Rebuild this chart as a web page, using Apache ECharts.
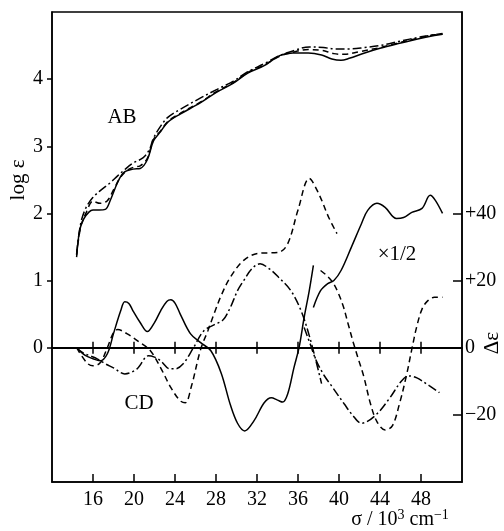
<!DOCTYPE html>
<html>
<head>
<meta charset="utf-8">
<script src="https://cdn.jsdelivr.net/npm/echarts@6/dist/echarts.min.js"></script>
<style>
html,body{margin:0;padding:0;background:#fff;}
#chart{width:504px;height:531px;}
</style>
</head>
<body>
<div id="chart"></div>
<script>
// ---- tick values ----
const xTicks = [16, 20, 24, 28, 32, 36, 40, 44, 48];
const logTicks = [0, 1, 2, 3, 4];
const deTicks = [-20, 0, 20, 40];

// ---- AB (log ε, left axis) ----
const abSolid = [[14.4,1.35],[14.7,1.75],[15.1,1.92],[15.6,2.02],[16.0,2.05],[16.6,2.05],[17.2,2.06],[17.7,2.2],[18.4,2.46],[19.0,2.61],[19.9,2.66],[20.6,2.67],[21.3,2.8],[21.9,3.08],[22.6,3.22],[23.3,3.36],[24.5,3.48],[26.5,3.65],[28,3.8],[29.7,3.94],[31.1,4.09],[32.7,4.2],[34.2,4.35],[35.5,4.39],[37,4.39],[38.3,4.36],[39.3,4.3],[40.2,4.28],[41,4.31],[42.5,4.39],[44,4.46],[45.8,4.53],[48,4.61],[49.3,4.65],[50.1,4.67]];
const abDashed = [[14.4,1.38],[14.8,1.8],[15.3,2.0],[16.0,2.18],[16.7,2.15],[17.4,2.19],[18.0,2.35],[18.6,2.52],[19.3,2.64],[20.0,2.69],[20.6,2.71],[21.3,2.82],[21.9,3.1],[22.6,3.23],[23.3,3.37],[24.5,3.49],[26.5,3.66],[28,3.81],[29.7,3.95],[31.1,4.1],[32.7,4.21],[34.2,4.34],[35.5,4.4],[37,4.44],[38.3,4.43],[39.5,4.38],[40.5,4.37],[42,4.41],[44,4.47],[45.8,4.54],[48,4.62],[49.3,4.66],[50.1,4.67]];
const abDashDot = [[14.4,1.4],[14.8,1.85],[15.3,2.08],[16.0,2.24],[16.8,2.35],[17.7,2.46],[18.4,2.56],[19.0,2.64],[19.9,2.75],[20.9,2.83],[21.5,2.95],[21.9,3.12],[22.6,3.3],[23.3,3.43],[24.5,3.55],[26.5,3.72],[28,3.84],[29.7,3.97],[31.1,4.11],[32.7,4.23],[34.2,4.35],[35.5,4.42],[37.1,4.48],[38.5,4.47],[39.6,4.45],[41,4.45],[42.5,4.47],[44,4.5],[45.8,4.56],[48,4.63],[49.3,4.66],[50.1,4.68]];

// ---- CD (Δε, right axis) ----
const cdSolid = [[14.4,0],[15.2,-2.2],[16.0,-3.3],[16.7,-3.9],[17.4,-1.8],[18.0,4.2],[18.7,11],[19.1,13.7],[19.5,13.2],[19.9,11],[20.6,7.5],[21.3,4.8],[22.0,7.5],[22.6,11],[23.2,13.8],[23.6,14.3],[24.0,13.3],[24.5,10.1],[25.5,4.2],[26.5,1.5],[27.5,-0.9],[28.5,-7.5],[29.4,-17],[30.1,-22.5],[30.8,-24.8],[31.7,-21.8],[32.7,-16.4],[33.4,-14.9],[34.0,-15.6],[34.5,-16.2],[35.0,-13.7],[35.6,-6],[36.1,0],[36.6,9],[37.1,17],[37.5,24.5]];
const cdSolidHalf = [[37.5,12],[38.2,17],[38.9,19.1],[39.5,20],[40.2,23],[41.2,29.9],[42.2,37],[42.8,40.9],[43.7,43],[44.5,41.8],[45.6,38.5],[46.3,38.8],[47.1,40.3],[48.1,41.5],[48.9,45.4],[49.4,43.9],[50.1,40]];
const cdDashed = [[14.4,0],[15.4,-4.5],[16.0,-5.4],[16.7,-4.5],[17.4,0],[18.0,4.5],[18.4,5.4],[19.3,4.2],[20.6,1.5],[21.6,-0.9],[22.6,-6],[23.6,-11.9],[24.5,-15.8],[25.0,-16.4],[25.6,-11.5],[26.5,-0.5],[27.2,5],[27.8,10],[28.5,15.5],[29.4,21],[30.7,26],[32.1,28.1],[34.1,28.4],[35.0,31],[36.0,41],[37.1,50.4],[38.0,46],[39.0,38.8],[39.8,34]];
const cdDashedHalf = [[38.2,23],[38.8,21.5],[39.4,19.4],[39.9,16.5],[40.4,12.5],[40.9,7],[41.4,1.5],[41.9,-3.5],[42.4,-8.4],[43.1,-17],[43.7,-22],[44.5,-24.5],[45.2,-23.3],[45.9,-16.7],[46.6,-8],[47.1,-0.5],[47.6,6.5],[48.1,11.5],[48.6,13.8],[49.3,15],[50.1,15]];
const cdDashDot = [[14.4,0],[15.0,-1.5],[15.7,-2.4],[16.4,-3.3],[17.2,-4.8],[18.0,-6],[19.1,-7.8],[20.3,-6.3],[21.4,-2.4],[22.0,-2.8],[22.6,-3.9],[23.5,-6.3],[24.0,-6.3],[24.8,-4.8],[25.8,0],[26.8,5],[27.8,6.8],[28.7,8.3],[29.4,12],[30.1,17],[30.7,20],[31.5,23.5],[32.3,25],[33.2,23.5],[34.1,21],[35.3,17],[36.3,11],[37.2,2.5],[38.3,-10.7]];
const cdDashDotHalf = [[36.6,6],[37.2,1],[37.8,-4],[38.6,-8.5],[39.3,-11.5],[40.5,-16.7],[41.3,-20],[42.2,-22.5],[43.5,-20.3],[44.9,-15.2],[46.1,-9.9],[46.8,-8.4],[47.6,-9],[48.8,-11.3],[49.8,-13.4]];

const FONT = 'Liberation Serif';
const BLACK = '#000';
const DASH = [6, 4];
const DASHDOT = [9, 3, 2, 3];

function line(name, data, yIdx, type) {
  return {
    name: name, type: 'line', data: data, yAxisIndex: yIdx, xAxisIndex: 0,
    showSymbol: false, smooth: 0.35, silent: true, animation: false,
    lineStyle: { color: BLACK, width: 1.5, type: type }
  };
}

const chart = echarts.init(document.getElementById('chart'), null, { renderer: 'canvas' });
chart.setOption({
  animation: false,
  backgroundColor: '#fff',
  textStyle: { fontFamily: FONT },
  grid: { left: 52, right: 42, top: 12, bottom: 49, show: true, borderColor: BLACK, borderWidth: 1.5, backgroundColor: 'transparent' },
  xAxis: [
    {
      type: 'value', min: 12, max: 52, interval: 4, position: 'bottom',
      axisLine: { onZero: false, lineStyle: { color: BLACK, width: 1.5 } },
      axisTick: { inside: true, length: 8, customValues: xTicks, lineStyle: { color: BLACK, width: 1.5 } },
      axisLabel: { customValues: xTicks, margin: 8, color: BLACK, fontFamily: FONT, fontSize: 20 },
      splitLine: { show: false }
    },
    {
      type: 'value', min: 12, max: 52, interval: 4, position: 'top',
      axisLine: { onZero: true, onZeroAxisIndex: 0, lineStyle: { color: BLACK, width: 2 } },
      axisTick: { inside: true, length: 6, customValues: xTicks, lineStyle: { color: BLACK, width: 1.5 } },
      axisLabel: { show: false }, splitLine: { show: false }
    },
    {
      type: 'value', min: 12, max: 52, interval: 4, position: 'bottom',
      axisLine: { onZero: true, onZeroAxisIndex: 0, lineStyle: { color: BLACK, width: 2 } },
      axisTick: { inside: true, length: 6, customValues: xTicks, lineStyle: { color: BLACK, width: 1.5 } },
      axisLabel: { show: false }, splitLine: { show: false }
    }
  ],
  yAxis: [
    {
      type: 'value', min: -2, max: 5, interval: 1, position: 'left',
      axisLine: { show: true, onZero: false, lineStyle: { color: BLACK, width: 1.5 } },
      axisTick: { show: true, inside: false, length: 5, customValues: logTicks, lineStyle: { color: BLACK, width: 1.5 } },
      axisLabel: { customValues: logTicks, margin: 9, color: BLACK, fontFamily: FONT, fontSize: 20 },
      splitLine: { show: false }
    },
    {
      type: 'value', min: -40, max: 100, interval: 20, position: 'right',
      axisLine: { show: true, onZero: false, lineStyle: { color: BLACK, width: 1.5 } },
      axisTick: { show: true, inside: true, length: 9, customValues: deTicks, lineStyle: { color: BLACK, width: 1.5 } },
      axisLabel: {
        customValues: deTicks, margin: 3, color: BLACK, fontFamily: FONT, fontSize: 20,
        formatter: function (v) { return v > 0 ? '+' + v : (v < 0 ? '\u2212' + Math.abs(v) : '0'); }
      },
      splitLine: { show: false }
    }
  ],
  series: [
    line('AB solid', abSolid, 0, 'solid'),
    line('AB dashed', abDashed, 0, DASH),
    line('AB dash-dot', abDashDot, 0, DASHDOT),
    line('CD solid', cdSolid, 1, 'solid'),
    line('CD solid ×1/2', cdSolidHalf, 1, 'solid'),
    line('CD dashed', cdDashed, 1, DASH),
    line('CD dashed ×1/2', cdDashedHalf, 1, DASH),
    line('CD dash-dot', cdDashDot, 1, DASHDOT),
    line('CD dash-dot ×1/2', cdDashDotHalf, 1, DASHDOT)
  ],
  graphic: [
    { type: 'text', x: 18, y: 180, rotation: Math.PI / 2, style: { text: 'log ε', fontFamily: FONT, fontSize: 21, fill: BLACK, align: 'center', verticalAlign: 'middle' } },
    { type: 'text', x: 492, y: 343, rotation: Math.PI / 2, style: { text: 'Δε', fontFamily: FONT, fontSize: 21, fill: BLACK, align: 'center', verticalAlign: 'middle' } },
    { type: 'text', x: 122, y: 117, style: { text: 'AB', fontFamily: FONT, fontSize: 21, fill: BLACK, align: 'center', verticalAlign: 'middle' } },
    { type: 'text', x: 139, y: 403, style: { text: 'CD', fontFamily: FONT, fontSize: 21, fill: BLACK, align: 'center', verticalAlign: 'middle' } },
    { type: 'text', x: 397, y: 254, style: { text: '×1/2', fontFamily: FONT, fontSize: 21, fill: BLACK, align: 'center', verticalAlign: 'middle' } },
    { type: 'text', x: 400, y: 519, style: {
        text: '{n|σ / 10}{s|3}{n| cm}{s|\u22121}', align: 'center', verticalAlign: 'middle',
        rich: {
          n: { fontFamily: FONT, fontSize: 20, fill: BLACK, verticalAlign: 'bottom', lineHeight: 22 },
          s: { fontFamily: FONT, fontSize: 14, fill: BLACK, verticalAlign: 'top', lineHeight: 22 }
        }
    } }
  ]
});
</script>
</body>
</html>
